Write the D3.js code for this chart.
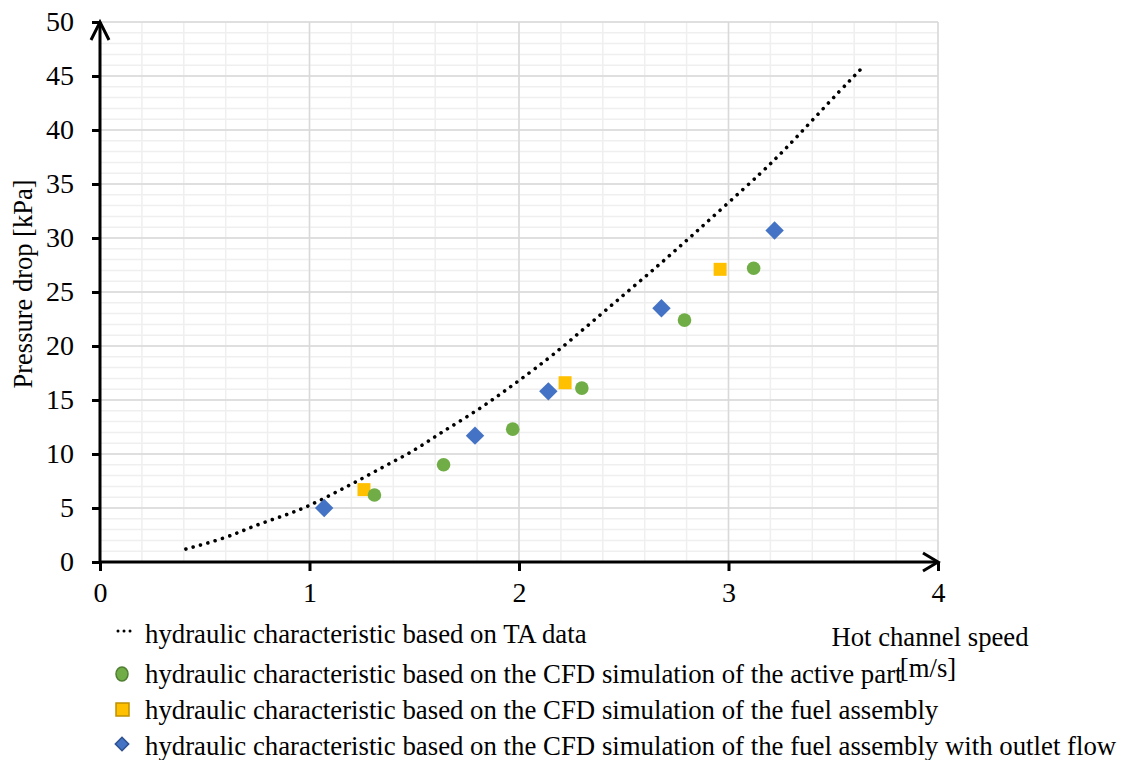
<!DOCTYPE html>
<html>
<head>
<meta charset="utf-8">
<script src="https://cdn.jsdelivr.net/npm/d3@7"></script>
<style>
  body { margin: 0; background: #fff; }
</style>
</head>
<body>
<div id="chart"></div>
<script>
// dotted TA curve
var taSpeed = [0.41, 0.6, 0.74, 0.88, 0.99, 1.12, 1.23, 1.36, 1.5, 1.62, 1.75, 1.88, 2.0, 2.16, 2.34, 2.51, 2.68, 2.83, 2.99, 3.16, 3.27, 3.4, 3.53, 3.64];
var taDrop = [1.2, 2.2, 3.4, 4.3, 5.1, 6.4, 7.5, 8.9, 10.3, 11.9, 13.4, 15.1, 16.8, 19.1, 22.1, 24.9, 27.7, 30.3, 33.1, 36.1, 38.2, 40.9, 43.6, 45.8];

// CFD active part (green circles)
var activeSpeed = [1.31, 1.64, 1.97, 2.30, 2.79, 3.12];
var activeDrop = [6.2, 9.0, 12.3, 16.1, 22.4, 27.2];

// CFD fuel assembly (yellow squares)
var fuelSpeed = [1.26, 2.22, 2.96];
var fuelDrop = [6.7, 16.6, 27.1];

// CFD fuel assembly with outlet flow (blue diamonds)
var outletSpeed = [1.07, 1.79, 2.14, 2.68, 3.22];
var outletDrop = [5.0, 11.7, 15.8, 23.5, 30.7];

var xTicks = [0, 1, 2, 3, 4];
var yTicks = [0, 5, 10, 15, 20, 25, 30, 35, 40, 45, 50];

var legendLabels = [
  'hydraulic characteristic based on TA data',
  'hydraulic characteristic based on the CFD simulation of the active part',
  'hydraulic characteristic based on the CFD simulation of the fuel assembly',
  'hydraulic characteristic based on the CFD simulation of the fuel assembly with outlet flow'
];

var serif = '"Liberation Serif", "Times New Roman", serif';
var width = 1121, height = 760;
var margin = { top: 22, right: 183, bottom: 198, left: 100 };
var chartWidth = width - margin.left - margin.right,
    chartHeight = height - margin.top - margin.bottom;

var x = d3.scaleLinear().domain([0, 4]).range([0, chartWidth]);
var y = d3.scaleLinear().domain([0, 50]).range([chartHeight, 0]);

var svg = d3.select('#chart').append('svg')
    .attr('width', width)
    .attr('height', height)
    .style('font-family', serif);

var g = svg.append('g')
    .attr('transform', 'translate(' + margin.left + ',' + margin.top + ')');

// minor grid
g.append('g')
    .selectAll('line')
    .data(d3.range(0, 4.001, 0.2))
    .enter().append('line')
    .attr('x1', function (d) { return x(d); })
    .attr('x2', function (d) { return x(d); })
    .attr('y1', 0).attr('y2', chartHeight)
    .attr('stroke', '#efefef').attr('stroke-width', 1.5);
g.append('g')
    .selectAll('line')
    .data(d3.range(0, 50.001, 1))
    .enter().append('line')
    .attr('y1', function (d) { return y(d); })
    .attr('y2', function (d) { return y(d); })
    .attr('x1', 0).attr('x2', chartWidth)
    .attr('stroke', '#efefef').attr('stroke-width', 1.5);

// major grid
g.append('g')
    .selectAll('line')
    .data(xTicks)
    .enter().append('line')
    .attr('x1', function (d) { return x(d); })
    .attr('x2', function (d) { return x(d); })
    .attr('y1', 0).attr('y2', chartHeight)
    .attr('stroke', '#d9d9d9').attr('stroke-width', 1.5);
g.append('g')
    .selectAll('line')
    .data(yTicks)
    .enter().append('line')
    .attr('y1', function (d) { return y(d); })
    .attr('y2', function (d) { return y(d); })
    .attr('x1', 0).attr('x2', chartWidth)
    .attr('stroke', '#d9d9d9').attr('stroke-width', 1.5);

// axes
var xAxis = d3.axisBottom(x).tickValues(xTicks).tickSize(9).tickPadding(11).tickFormat(d3.format('d'));
var yAxis = d3.axisLeft(y).tickValues(yTicks).tickSize(8).tickPadding(18).tickFormat(d3.format('d'));

var xg = g.append('g')
    .attr('transform', 'translate(0,' + chartHeight + ')')
    .call(xAxis);
var yg = g.append('g').call(yAxis);
[xg, yg].forEach(function (a) {
  a.attr('font-family', null).attr('font-size', null);
  a.select('.domain').remove();
  a.selectAll('.tick line').attr('stroke', '#000').attr('stroke-width', 3);
  a.selectAll('.tick text')
      .style('font-family', serif)
      .style('font-size', '28px')
      .attr('fill', '#000');
});

g.append('line')
    .attr('x1', -1).attr('x2', chartWidth)
    .attr('y1', chartHeight).attr('y2', chartHeight)
    .attr('stroke', '#000').attr('stroke-width', 3);
g.append('line')
    .attr('x1', 0).attr('x2', 0)
    .attr('y1', chartHeight + 1).attr('y2', 0)
    .attr('stroke', '#000').attr('stroke-width', 3);

// arrow heads
g.append('path')
    .attr('d', 'M-9,18L0,0L9,18')
    .attr('fill', 'none').attr('stroke', '#000').attr('stroke-width', 3);
g.append('path')
    .attr('d', 'M' + (chartWidth - 15) + ',' + (chartHeight - 9) + 'L' + chartWidth + ',' + chartHeight + 'L' + (chartWidth - 15) + ',' + (chartHeight + 9))
    .attr('fill', 'none').attr('stroke', '#000').attr('stroke-width', 3);

// TA curve
var line = d3.line()
    .curve(d3.curveBasis)
    .x(function (d, i) { return x(taSpeed[i]); })
    .y(function (d, i) { return y(taDrop[i]); });
g.append('path')
    .datum(taDrop)
    .attr('d', line)
    .attr('fill', 'none')
    .attr('stroke', '#000')
    .attr('stroke-width', 3.6)
    .attr('stroke-linecap', 'round')
    .attr('stroke-dasharray', '0.01,7.6');

var diamond = d3.symbol().type(d3.symbolSquare).size(170);

g.append('g').selectAll('path')
    .data(outletDrop)
    .enter().append('path')
    .attr('d', diamond)
    .attr('transform', function (d, i) { return 'translate(' + x(outletSpeed[i]) + ',' + y(d) + ') rotate(45)'; })
    .attr('fill', '#4472c4');

g.append('g').selectAll('rect')
    .data(fuelDrop)
    .enter().append('rect')
    .attr('x', function (d, i) { return x(fuelSpeed[i]) - 6.5; })
    .attr('y', function (d) { return y(d) - 6.5; })
    .attr('width', 13).attr('height', 13)
    .attr('fill', '#ffc000');

g.append('g').selectAll('circle')
    .data(activeDrop)
    .enter().append('circle')
    .attr('cx', function (d, i) { return x(activeSpeed[i]); })
    .attr('cy', function (d) { return y(d); })
    .attr('r', 6.8)
    .attr('fill', '#70ad47');

// axis titles
svg.append('text')
    .attr('transform', 'translate(32,284) rotate(-90)')
    .attr('text-anchor', 'middle')
    .style('font-size', '26.5px')
    .text('Pressure drop [kPa]');

var xTitle = svg.append('text')
    .attr('text-anchor', 'middle')
    .style('font-size', '26.7px');
xTitle.append('tspan')
    .attr('x', 930).attr('y', 646)
    .text('Hot channel speed');
xTitle.append('tspan')
    .attr('x', 928).attr('dy', 31)
    .text('[m/s]');

// legend
var legendY = [643, 683, 719, 755];
var legend = svg.append('g');
legendLabels.forEach(function (label, i) {
  legend.append('text')
      .attr('x', 145).attr('y', legendY[i])
      .style('font-size', '26.8px')
      .text(label);
});
var cy = legendY.map(function (v) { return v - 9; });
legend.append('path')
    .attr('d', 'M118,' + (cy[0] - 3) + 'L133,' + (cy[0] - 3))
    .attr('stroke', '#000').attr('stroke-width', 3)
    .attr('stroke-linecap', 'round').attr('stroke-dasharray', '0.01,6');
legend.append('ellipse')
    .attr('cx', 122).attr('cy', cy[1])
    .attr('rx', 6).attr('ry', 7)
    .attr('fill', '#70ad47').attr('stroke', '#507e32').attr('stroke-width', 1.5);
legend.append('rect')
    .attr('x', 116).attr('y', cy[2] - 7)
    .attr('width', 13).attr('height', 13)
    .attr('fill', '#ffc000').attr('stroke', '#bf9000').attr('stroke-width', 1.5);
legend.append('path')
    .attr('d', d3.symbol().type(d3.symbolSquare).size(90))
    .attr('transform', 'translate(122,' + (cy[3] - 2) + ') rotate(45)')
    .attr('fill', '#4472c4').attr('stroke', '#2f528f').attr('stroke-width', 1.5);
</script>
</body>
</html>
